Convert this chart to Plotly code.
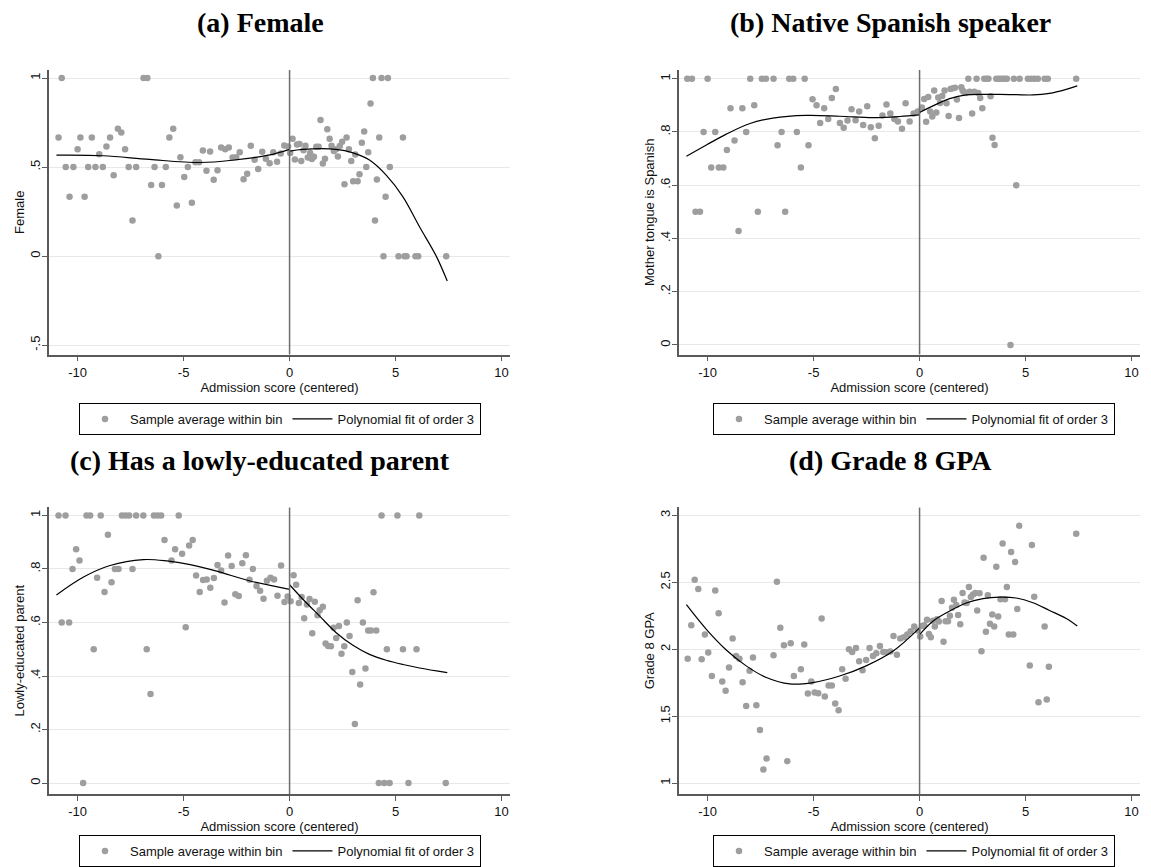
import plotly.graph_objects as go

# ---- data (bin averages + fitted curves) ----
# (a) Female
female_x = [-10.9, -10.75, -10.56, -10.38, -10.2, -10.0, -9.87, -9.67, -9.5, -9.33,
            -9.16, -8.98, -8.81, -8.64, -8.47, -8.3, -8.1, -7.94, -7.76, -7.59,
            -7.41, -7.24, -6.89, -6.71, -6.53, -6.37, -6.19, -6.02, -5.84, -5.67,
            -5.49, -5.32, -5.15, -4.97, -4.8, -4.61, -4.44, -4.27, -4.09, -3.92,
            -3.75, -3.58, -3.4, -3.23, -3.04, -2.87, -2.69, -2.52, -2.35, -2.17,
            -2.0, -1.83, -1.65, -1.48, -1.29, -1.12, -0.94, -0.77, -0.59, -0.42,
            -0.25, -0.07, 0.03, 0.14, 0.25, 0.35, 0.47, 0.55, 0.66, 0.75,
            0.86, 0.97, 1.05, 1.15, 1.26, 1.37, 1.46, 1.57, 1.67, 1.78,
            1.89, 1.98, 2.09, 2.19, 2.28, 2.37, 2.48, 2.59, 2.69, 2.8,
            2.91, 3.0, 3.1, 3.21, 3.3, 3.41, 3.52, 3.62, 3.71, 3.82,
            3.93, 4.03, 4.12, 4.23, 4.34, 4.43, 4.53, 4.64, 4.73, 5.14,
            5.35, 5.42, 5.52, 5.94, 6.07, 7.39]
female_y = [0.667, 1.0, 0.5, 0.333, 0.5, 0.6, 0.667, 0.333, 0.5, 0.667,
            0.5, 0.573, 0.5, 0.616, 0.667, 0.455, 0.715, 0.695, 0.6, 0.5,
            0.2, 0.5, 1.0, 1.0, 0.4, 0.5, 0.0, 0.4, 0.5, 0.667,
            0.715, 0.285, 0.556, 0.444, 0.5, 0.3, 0.528, 0.528, 0.594, 0.479,
            0.588, 0.429, 0.483, 0.61, 0.6, 0.61, 0.554, 0.556, 0.584, 0.432,
            0.463, 0.62, 0.541, 0.489, 0.586, 0.547, 0.522, 0.584, 0.53, 0.577,
            0.622, 0.616, 0.58, 0.66, 0.543, 0.627, 0.63, 0.535, 0.595, 0.62,
            0.554, 0.58, 0.545, 0.558, 0.614, 0.614, 0.764, 0.52, 0.547, 0.713,
            0.66, 0.62, 0.59, 0.6, 0.56, 0.618, 0.642, 0.404, 0.667, 0.6,
            0.534, 0.421, 0.571, 0.421, 0.46, 0.637, 0.7, 0.5, 0.584, 0.857,
            1.0, 0.2, 0.43, 0.667, 1.0, 0.0, 0.333, 1.0, 0.5, 0.0,
            0.667, 0.0, 0.0, 0.0, 0.0, 0.0]
female_fit_lx = [-11.0, -8.8, -6.6, -4.2, -2.6, -1.0, 0.0]
female_fit_ly = [0.567, 0.564, 0.543, 0.526, 0.54, 0.567, 0.6]
female_fit_rx = [0.0, 0.63, 2.2, 3.0, 3.77, 4.56, 5.35, 6.13, 6.92, 7.44]
female_fit_ry = [0.59, 0.6, 0.6, 0.58, 0.54, 0.455, 0.333, 0.165, 0.0, -0.14]

# (b) Native Spanish speaker
spanish_x = [-10.96, -10.74, -10.57, -10.36, -10.19, -10.0, -9.83, -9.64, -9.47, -9.26,
             -9.09, -8.92, -8.73, -8.54, -8.36, -8.18, -7.99, -7.8, -7.63, -7.44,
             -7.25, -6.89, -6.7, -6.51, -6.34, -6.15, -5.96, -5.79, -5.6, -5.42,
             -5.24, -5.05, -4.86, -4.69, -4.5, -4.31, -4.14, -3.95, -3.76, -3.58,
             -3.4, -3.21, -3.02, -2.85, -2.66, -2.47, -2.3, -2.11, -1.93, -1.75,
             -1.56, -1.38, -1.19, -1.02, -0.83, -0.66, -0.47, -0.28, -0.09, 0.11,
             0.22, 0.31, 0.41, 0.5, 0.6, 0.69, 0.79, 0.88, 0.97, 1.07,
             1.18, 1.27, 1.37, 1.46, 1.57, 1.67, 1.76, 1.86, 1.97, 2.03,
             2.08, 2.17, 2.3, 2.36, 2.48, 2.58, 2.69, 2.77, 2.86, 2.96,
             3.05, 3.16, 3.25, 3.35, 3.44, 3.54, 3.62, 3.72, 3.82, 3.92,
             4.02, 4.12, 4.29, 4.45, 4.56, 4.72, 5.11, 5.27, 5.42, 5.58,
             5.9, 6.05, 7.39]
spanish_y = [1.0, 1.0, 0.5, 0.5, 0.8, 1.0, 0.667, 0.8, 0.667, 0.667,
             0.732, 0.889, 0.768, 0.428, 0.889, 0.8, 1.0, 0.9, 0.5, 1.0,
             1.0, 1.0, 0.75, 0.8, 0.5, 1.0, 1.0, 0.8, 0.667, 1.0,
             0.75, 0.923, 0.9, 0.834, 0.889, 0.849, 0.928, 0.961, 0.834, 0.816,
             0.843, 0.885, 0.844, 0.877, 0.826, 0.897, 0.818, 0.776, 0.823, 0.862,
             0.903, 0.869, 0.849, 0.839, 0.812, 0.908, 0.839, 0.869, 0.877, 0.892,
             0.924, 0.838, 0.931, 0.877, 0.858, 0.956, 0.873, 0.929, 0.909, 0.935,
             0.956, 0.908, 0.86, 0.961, 0.964, 0.966, 0.922, 0.852, 0.968, 0.956,
             0.951, 0.946, 1.0, 0.951, 0.869, 0.951, 1.0, 0.946, 0.928, 0.889,
             1.0, 1.0, 1.0, 0.934, 0.778, 0.751, 1.0, 1.0, 1.0, 1.0,
             1.0, 1.0, 0.0, 1.0, 0.6, 1.0, 1.0, 1.0, 1.0, 1.0,
             1.0, 1.0, 1.0]
spanish_fit_lx = [-11.0, -10.06, -9.12, -8.0, -6.92, -5.35, -3.77, -2.2, -0.94, 0.0]
spanish_fit_ly = [0.709, 0.751, 0.792, 0.832, 0.852, 0.862, 0.859, 0.854, 0.858, 0.864]
spanish_fit_rx = [0.0, 0.63, 1.42, 2.2, 2.99, 3.77, 4.56, 5.35, 6.13, 6.92, 7.44]
spanish_fit_ry = [0.873, 0.898, 0.925, 0.939, 0.941, 0.941, 0.94, 0.939, 0.945, 0.96, 0.973]

# (c) Has a lowly-educated parent
lowedu_x = [-10.9, -10.75, -10.57, -10.4, -10.24, -10.07, -9.91, -9.74, -9.58, -9.41,
            -9.24, -9.08, -8.91, -8.73, -8.57, -8.4, -8.24, -8.07, -7.91, -7.74,
            -7.57, -7.41, -7.24, -6.9, -6.74, -6.56, -6.4, -6.23, -6.06, -5.9,
            -5.57, -5.4, -5.23, -5.07, -4.9, -4.74, -4.57, -4.41, -4.24, -4.08,
            -3.91, -3.74, -3.57, -3.4, -3.23, -3.07, -2.9, -2.73, -2.56, -2.4,
            -2.23, -2.06, -1.89, -1.73, -1.56, -1.39, -1.23, -1.07, -0.9, -0.73,
            -0.57, -0.4, -0.24, -0.09, 0.05, 0.19, 0.31, 0.44, 0.57, 0.69,
            0.82, 0.94, 1.07, 1.19, 1.32, 1.42, 1.57, 1.7, 1.82, 1.95,
            2.08, 2.2, 2.33, 2.45, 2.58, 2.7, 2.83, 2.96, 3.08, 3.21,
            3.33, 3.46, 3.58, 3.71, 3.84, 3.96, 4.09, 4.21, 4.34, 4.47,
            4.59, 4.72, 5.09, 5.35, 5.61, 5.99, 6.12, 7.37]
lowedu_y = [1.0, 0.6, 1.0, 0.6, 0.8, 0.874, 0.832, 0.0, 1.0, 1.0,
            0.5, 0.767, 1.0, 0.714, 0.928, 0.75, 0.8, 0.8, 1.0, 1.0,
            1.0, 0.8, 1.0, 1.0, 0.5, 0.333, 1.0, 1.0, 1.0, 0.908,
            0.832, 0.874, 1.0, 0.857, 0.582, 0.888, 0.908, 0.776, 0.714, 0.759,
            0.761, 0.73, 0.766, 0.815, 0.794, 0.675, 0.85, 0.811, 0.706, 0.699,
            0.821, 0.851, 0.76, 0.8, 0.736, 0.719, 0.689, 0.756, 0.767, 0.761,
            0.7, 0.813, 0.677, 0.697, 0.679, 0.777, 0.741, 0.673, 0.695, 0.616,
            0.667, 0.688, 0.56, 0.678, 0.627, 0.646, 0.659, 0.522, 0.512, 0.511,
            0.58, 0.542, 0.587, 0.483, 0.511, 0.6, 0.55, 0.415, 0.221, 0.683,
            0.368, 0.6, 0.428, 0.57, 0.57, 0.713, 0.57, 0.0, 1.0, 0.0,
            0.5, 0.0, 1.0, 0.5, 0.0, 0.5, 1.0, 0.0]
lowedu_fit_lx = [-11.0, -9.72, -8.47, -6.9, -5.79, -4.69, -3.44, -1.86, 0.0]
lowedu_fit_ly = [0.703, 0.77, 0.813, 0.835, 0.83, 0.816, 0.792, 0.755, 0.724]
lowedu_fit_rx = [0.0, 0.63, 1.42, 2.2, 2.99, 3.77, 4.56, 5.35, 6.13, 7.44]
lowedu_fit_ry = [0.741, 0.687, 0.624, 0.562, 0.515, 0.481, 0.459, 0.443, 0.43, 0.413]

# (d) Grade 8 GPA
gpa_x = [-10.94, -10.77, -10.61, -10.44, -10.28, -10.13, -9.97, -9.8, -9.64, -9.48,
         -9.31, -9.15, -8.99, -8.82, -8.66, -8.5, -8.35, -8.18, -8.02, -7.86,
         -7.7, -7.53, -7.37, -7.22, -6.89, -6.73, -6.57, -6.4, -6.24, -6.08,
         -5.93, -5.6, -5.44, -5.27, -5.11, -4.95, -4.78, -4.62, -4.47, -4.29,
         -4.14, -3.98, -3.82, -3.65, -3.49, -3.33, -3.18, -3.0, -2.85, -2.69,
         -2.52, -2.36, -2.2, -2.04, -1.87, -1.71, -1.56, -1.38, -1.23, -1.07,
         -0.91, -0.74, -0.58, -0.42, -0.25, -0.09, 0.03, 0.11, 0.22, 0.35,
         0.44, 0.53, 0.63, 0.72, 0.82, 0.91, 1.04, 1.13, 1.23, 1.34,
         1.43, 1.53, 1.62, 1.73, 1.82, 1.92, 2.03, 2.12, 2.22, 2.33,
         2.42, 2.52, 2.63, 2.72, 2.83, 2.92, 3.02, 3.13, 3.22, 3.32,
         3.43, 3.52, 3.62, 3.71, 3.82, 3.92, 4.03, 4.12, 4.21, 4.32,
         4.42, 4.51, 4.61, 4.7, 5.2, 5.3, 5.41, 5.61, 5.9, 6.0,
         6.1, 7.39]
gpa_y = [1.93, 2.18, 2.52, 2.45, 1.925, 2.11, 1.975, 1.8, 2.44, 2.27,
         1.76, 1.69, 1.863, 2.08, 1.95, 1.93, 1.754, 1.577, 1.84, 1.938,
         1.582, 1.396, 1.102, 1.184, 1.955, 2.505, 2.16, 2.03, 1.164, 2.045,
         1.8, 1.85, 2.035, 1.67, 1.76, 1.677, 1.672, 2.23, 1.647, 1.73,
         1.73, 1.595, 1.545, 1.85, 1.78, 2.0, 1.98, 2.01, 1.91, 1.843,
         1.92, 2.01, 1.95, 1.97, 2.025, 1.98, 1.978, 1.983, 2.1, 1.96,
         2.08, 2.09, 2.11, 2.134, 2.17, 2.14, 2.095, 2.174, 2.18, 2.22,
         2.114, 2.09, 2.214, 2.17, 2.224, 2.207, 2.36, 2.057, 2.21, 2.21,
         2.25, 2.31, 2.37, 2.33, 2.256, 2.187, 2.42, 2.35, 2.346, 2.465,
         2.39, 2.41, 2.42, 2.29, 2.418, 1.985, 2.684, 2.13, 2.403, 2.19,
         2.26, 2.17, 2.617, 2.244, 2.373, 2.79, 2.373, 2.465, 2.11, 2.726,
         2.11, 2.652, 2.3, 2.923, 1.878, 2.78, 2.393, 1.604, 2.17, 1.624,
         1.87, 2.863]
gpa_fit_lx = [-11.0, -10.06, -9.12, -8.18, -7.23, -6.13, -5.03, -3.77, -2.52, -1.26, 0.0]
gpa_fit_ly = [2.333, 2.149, 1.995, 1.876, 1.789, 1.741, 1.751, 1.8, 1.876, 1.985, 2.16]
gpa_fit_rx = [0.0, 0.63, 1.42, 2.2, 2.99, 3.77, 4.56, 5.35, 6.13, 6.92, 7.44]
gpa_fit_ry = [2.11, 2.21, 2.286, 2.346, 2.378, 2.39, 2.383, 2.348, 2.29, 2.23, 2.174]

x_ticks = [-10, -5, 0, 5, 10]
x_labels = ["-10", "-5", "0", "5", "10"]

panels = [
    dict(title="(a) Female", ytitle="Female", x=female_x, y=female_y,
         fx=female_fit_lx + [None] + female_fit_rx, fy=female_fit_ly + [None] + female_fit_ry,
         yticks=[-0.5, 0, 0.5, 1], ylabels=["-.5", "0", ".5", "1"], yrange=[-0.553, 1.046]),
    dict(title="(b) Native Spanish speaker", ytitle="Mother tongue is Spanish", x=spanish_x, y=spanish_y,
         fx=spanish_fit_lx + [None] + spanish_fit_rx, fy=spanish_fit_ly + [None] + spanish_fit_ry,
         yticks=[0, 0.2, 0.4, 0.6, 0.8, 1], ylabels=["0", ".2", ".4", ".6", ".8", "1"], yrange=[-0.036, 1.033]),
    dict(title="(c) Has a lowly-educated parent", ytitle="Lowly-educated parent", x=lowedu_x, y=lowedu_y,
         fx=lowedu_fit_lx + [None] + lowedu_fit_rx, fy=lowedu_fit_ly + [None] + lowedu_fit_ry,
         yticks=[0, 0.2, 0.4, 0.6, 0.8, 1], ylabels=["0", ".2", ".4", ".6", ".8", "1"], yrange=[-0.041, 1.03]),
    dict(title="(d) Grade 8 GPA", ytitle="Grade 8 GPA", x=gpa_x, y=gpa_y,
         fx=gpa_fit_lx + [None] + gpa_fit_rx, fy=gpa_fit_ly + [None] + gpa_fit_ry,
         yticks=[1, 1.5, 2, 2.5, 3], ylabels=["1", "1.5", "2", "2.5", "3"], yrange=[0.918, 3.06]),
]

W, H = 1151, 867
col_dom = [[49 / W, 510 / W], [679 / W, 1140 / W]]
row_dom = [[1 - 355 / H, 1 - 70 / H], [1 - 795 / H, 1 - 508 / H]]
title_x = [260 / W, 890 / W]
title_y = [1 - 23 / H, 1 - 461 / H]
legend_x = [280 / W, 914 / W]
legend_y = [1 - 403 / H, 1 - 836 / H]

SANS = "Liberation Sans, Arial, sans-serif"
SERIF = "Liberation Serif, Times New Roman, serif"
AXIS_COL = "#5a5a5a"

fig = go.Figure()
layout = dict(width=W, height=H, margin=dict(l=0, r=0, t=0, b=0),
              paper_bgcolor="white", plot_bgcolor="white",
              font=dict(family=SANS, size=13, color="#111111"), annotations=[], shapes=[])

for i, p in enumerate(panels):
    r, c = divmod(i, 2)
    n = "" if i == 0 else str(i + 1)
    xa, ya, lg = "x" + n, "y" + n, "legend" + n

    fig.add_trace(go.Scatter(x=p["x"], y=p["y"], mode="markers", xaxis=xa, yaxis=ya, legend=lg,
                             marker=dict(color="#9e9e9e", size=6.5),
                             name="Sample average within bin"))
    fig.add_trace(go.Scatter(x=p["fx"], y=p["fy"], mode="lines", xaxis=xa, yaxis=ya, legend=lg,
                             line=dict(color="black", width=1.2, shape="spline"),
                             connectgaps=False, name="Polynomial fit of order 3"))

    layout["xaxis" + n] = dict(domain=col_dom[c], anchor=ya, range=[-11.35, 10.4],
                               tickvals=x_ticks, ticktext=x_labels, ticks="outside", ticklen=5,
                               tickcolor=AXIS_COL, showline=True, linecolor=AXIS_COL, linewidth=1.5,
                               showgrid=False, zeroline=False, automargin=False,
                               tickfont=dict(size=13),
                               title=dict(text="Admission score (centered)", font=dict(size=13), standoff=2))
    layout["yaxis" + n] = dict(domain=row_dom[r], anchor=xa, range=p["yrange"],
                               tickvals=p["yticks"], ticktext=p["ylabels"], tickangle=-90,
                               ticks="outside", ticklen=5, tickcolor=AXIS_COL, ticklabelstandoff=-3,
                               showline=True, linecolor=AXIS_COL, linewidth=1.5,
                               showgrid=True, gridcolor="#e8e8e8", gridwidth=1,
                               zeroline=False, automargin=False, tickfont=dict(size=13),
                               title=dict(text=p["ytitle"], font=dict(size=13), standoff=0))
    layout[lg] = dict(orientation="h", x=legend_x[c], y=legend_y[r], xanchor="center", yanchor="top",
                      xref="paper", yref="paper", bordercolor="black", borderwidth=1,
                      bgcolor="white", font=dict(size=13), itemwidth=40)
    layout["shapes"].append(dict(type="line", xref=xa, yref=ya + " domain", x0=0, x1=0, y0=0, y1=1,
                                 line=dict(color="#6e6e6e", width=1.5)))
    layout["annotations"].append(dict(text="<b>" + p["title"] + "</b>", x=title_x[c], y=title_y[r],
                                      xref="paper", yref="paper", xanchor="center", yanchor="middle",
                                      showarrow=False, font=dict(family=SERIF, size=28, color="black")))

fig.update_layout(**layout)
# drop the default page margin so the 1151x867 figure sits flush in the window
fig.write_html("out.html", config={"displayModeBar": False},
               post_script="document.body.style.margin='0';")
